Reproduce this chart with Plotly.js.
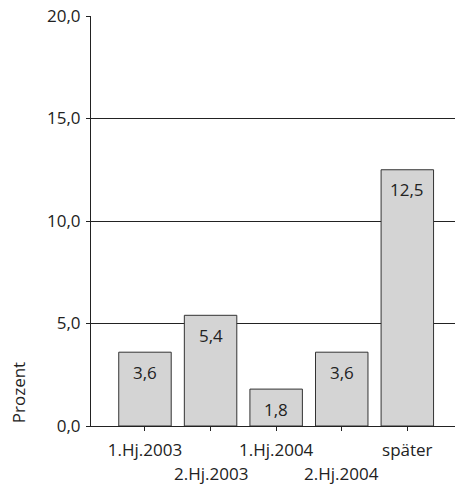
<!DOCTYPE html>
<html>
<head>
<meta charset="utf-8">
<script src="https://cdn.plot.ly/plotly-3.0.1.min.js"></script>
<style>html,body{margin:0;padding:0;background:#fff;}</style>
</head>
<body>
<div id="chart" style="width:455px;height:487px;"></div>
<script>
var categories = ["1.Hj.2003", "2.Hj.2003", "1.Hj.2004", "2.Hj.2004", "später"];
var values = [3.6, 5.4, 1.8, 3.6, 12.5];
var valueLabels = ["3,6", "5,4", "1,8", "3,6", "12,5"];
var yTickVals = [0, 5, 10, 15, 20];
var yTickText = ["0,0", "5,0", "10,0", "15,0", "20,0"];
var yTitle = "Prozent";

var FONT = "Open Sans, Noto Sans, sans-serif";
var TXT = "#222";
var FS = 17;
var idx = categories.map(function (c, i) { return i; });

var trace = {
  type: "bar",
  x: idx,
  y: values,
  width: 0.8,
  marker: { color: "#d4d4d4", line: { color: "#333", width: 1 } },
  hoverinfo: "skip"
};

var annotations = [];
values.forEach(function (v, i) {
  annotations.push({
    x: i, y: v, xref: "x", yref: "y", text: valueLabels[i], showarrow: false,
    yanchor: "middle", yshift: -20, font: { family: FONT, size: FS, color: TXT }
  });
});
// second row of staggered category labels
categories.forEach(function (c, i) {
  if (i % 2 === 1) {
    annotations.push({
      x: i, y: 0, xref: "x", yref: "paper", text: c, showarrow: false,
      yanchor: "middle", yshift: -47, font: { family: FONT, size: FS, color: TXT }
    });
  }
});
annotations.push({
  x: -0.2005, y: 0.08, xref: "paper", yref: "paper", text: yTitle, showarrow: false,
  textangle: -90, xanchor: "center", yanchor: "middle",
  font: { family: FONT, size: FS, color: TXT }
});

var layout = {
  width: 455, height: 487,
  margin: { l: 91, r: 0, t: 16, b: 61 },
  paper_bgcolor: "#fff", plot_bgcolor: "#fff",
  showlegend: false,
  bargap: 0.2,
  font: { family: FONT, size: FS, color: TXT },
  xaxis: {
    range: [-0.823, 4.727],
    tickvals: idx,
    ticktext: categories.map(function (c, i) { return i % 2 === 0 ? c : ""; }),
    ticks: "outside", ticklen: 4, tickcolor: "#222", tickwidth: 1,
    ticklabelstandoff: 5,
    showline: true, linecolor: "#222", linewidth: 1,
    showgrid: false, zeroline: false, fixedrange: true,
    tickfont: { family: FONT, size: FS, color: TXT }
  },
  yaxis: {
    range: [0, 20],
    tickvals: yTickVals, ticktext: yTickText,
    ticks: "outside", ticklen: 4, tickcolor: "#222", tickwidth: 1,
    ticklabelstandoff: 2,
    showline: true, linecolor: "#222", linewidth: 1,
    showgrid: true, gridcolor: "#222", gridwidth: 1,
    zeroline: false, fixedrange: true,
    tickfont: { family: FONT, size: FS, color: TXT }
  },
  annotations: annotations
};

Plotly.newPlot("chart", [trace], layout, { displayModeBar: false, staticPlot: true });
</script>
</body>
</html>
